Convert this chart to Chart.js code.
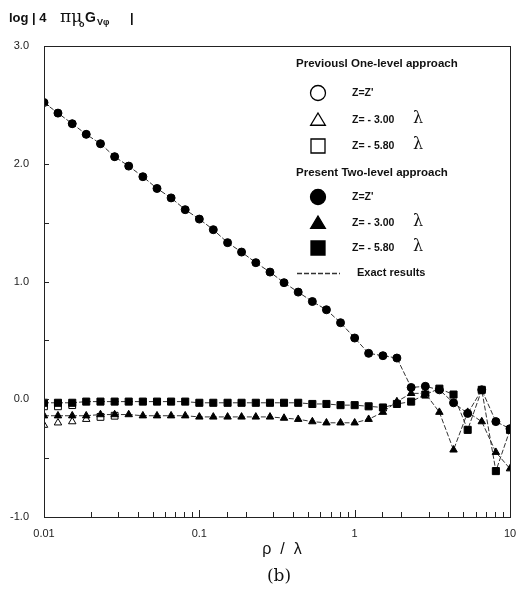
<!DOCTYPE html>
<html>
<head>
<meta charset="utf-8">
<script src="https://cdn.jsdelivr.net/npm/chart.js@4.4.0/dist/chart.umd.min.js"></script>
<style>
  html, body { margin: 0; padding: 0; background: #fff; }
  #wrap { width: 522px; height: 590px; }
</style>
</head>
<body>
<div id="wrap"><canvas id="chart" width="522" height="590"></canvas></div>
<script>
// rho / lambda sample points
var rho = [0.01, 0.0123, 0.0152, 0.0187, 0.0231, 0.0285, 0.0351, 0.0433, 0.0534, 0.0658, 0.0811,
           0.1, 0.123, 0.152, 0.187, 0.231, 0.285, 0.351, 0.433, 0.534, 0.658, 0.811,
           1.0, 1.23, 1.52, 1.87, 2.31, 2.85, 3.51, 4.33, 5.34, 6.58, 8.11, 10];

// present two-level approach
var presentZZ = [2.52, 2.43, 2.34, 2.25, 2.17, 2.06, 1.98, 1.89, 1.79, 1.71, 1.61,
                 1.53, 1.44, 1.33, 1.25, 1.16, 1.08, 0.99, 0.91, 0.83, 0.76, 0.65,
                 0.52, 0.39, 0.37, 0.35, 0.10, 0.11, 0.08, -0.03, -0.12, 0.08, -0.19, -0.25];
var present300 = [-0.14, -0.14, -0.14, -0.14, -0.13, -0.13, -0.13, -0.14, -0.14, -0.14, -0.14,
                  -0.15, -0.15, -0.15, -0.15, -0.15, -0.15, -0.16, -0.17, -0.19, -0.20, -0.20,
                  -0.20, -0.17, -0.11, -0.02, 0.05, 0.05, -0.11, -0.43, -0.11, -0.19, -0.45, -0.59];
var present580 = [-0.03, -0.03, -0.03, -0.02, -0.02, -0.02, -0.02, -0.02, -0.02, -0.02, -0.02,
                  -0.03, -0.03, -0.03, -0.03, -0.03, -0.03, -0.03, -0.03, -0.04, -0.04, -0.05,
                  -0.05, -0.06, -0.07, -0.04, -0.02, 0.04, 0.09, 0.04, -0.26, 0.08, -0.61, -0.26];

// previous one-level approach (only the first small-rho points)
var prevRhoZZ = [0.01, 0.0123, 0.0152, 0.0187, 0.0231, 0.0285];
var prevZZ = [2.52, 2.43, 2.34, 2.25, 2.17, 2.06];
var prevRho300 = [0.01, 0.0123, 0.0152, 0.0187];
var prev300 = [-0.22, -0.20, -0.19, -0.17];
var prevRho580 = [0.01, 0.0123, 0.0152, 0.0231, 0.0285];
var prev580 = [-0.06, -0.06, -0.05, -0.15, -0.14];

var xTickValues = [0.01, 0.1, 1, 10];
var xTickLabels = ['0.01', '0.1', '1', '10'];
var yTickLabels = ['-1.0', '0.0', '1.0', '2.0', '3.0'];

function pts(xs, ys) {
    return ys.map(function (y, i) { return { x: xs[i], y: y }; });
}

var sansB = "'Liberation Sans', Arial, sans-serif";
var narrow = "'Liberation Sans Narrow', 'Liberation Sans', Arial, sans-serif";

function shape(ctx, kind, x, y, s, filled) {
    ctx.beginPath();
    if (kind === 'circle') {
        ctx.arc(x, y, s, 0, Math.PI * 2);
    } else if (kind === 'tri') {
        ctx.moveTo(x, y - s);
        ctx.lineTo(x + s * 1.05, y + s * 0.75);
        ctx.lineTo(x - s * 1.05, y + s * 0.75);
        ctx.closePath();
    } else {
        ctx.rect(x - s, y - s, 2 * s, 2 * s);
    }
    ctx.fillStyle = filled ? '#000' : '#fff';
    ctx.fill();
    ctx.lineWidth = 1.3;
    ctx.strokeStyle = '#000';
    ctx.stroke();
}

var decor = {
    id: 'decor',
    afterDraw: function (chart) {
        var ctx = chart.ctx, a = chart.chartArea;
        var xs = chart.scales.x, ys = chart.scales.y;
        ctx.save();
        // frame
        ctx.strokeStyle = '#222';
        ctx.lineWidth = 1;
        ctx.strokeRect(a.left + 0.5, a.top + 0.5, a.right - a.left, a.bottom - a.top);
        // inward ticks
        ys.ticks.forEach(function (t) {
            var py = Math.round(ys.getPixelForValue(t.value)) + 0.5;
            ctx.beginPath();
            ctx.moveTo(a.left, py);
            ctx.lineTo(a.left + 5, py);
            ctx.stroke();
        });
        xs.ticks.forEach(function (t) {
            var px = Math.round(xs.getPixelForValue(t.value)) + 0.5;
            var major = xTickValues.indexOf(t.value) >= 0;
            ctx.beginPath();
            ctx.moveTo(px, a.bottom);
            ctx.lineTo(px, a.bottom - (major ? 7 : 5));
            ctx.stroke();
        });

        // y title
        ctx.fillStyle = '#111';
        ctx.textBaseline = 'alphabetic';
        ctx.textAlign = 'left';
        ctx.font = 'bold 13px ' + sansB;
        ctx.fillText('log | 4', 9, 22);
        ctx.font = '17px "DejaVu Serif", serif';
        ctx.fillText('πμ', 60, 22);
        ctx.font = 'bold 9px ' + sansB;
        ctx.fillText('o', 79, 27);
        ctx.font = 'bold 14px ' + sansB;
        ctx.fillText('G', 85, 22);
        ctx.font = 'bold 9px ' + sansB;
        ctx.fillText('Vφ', 97, 25);
        ctx.font = 'bold 13px ' + sansB;
        ctx.fillText('|', 130, 22);

        // axis title and caption
        ctx.textAlign = 'center';
        ctx.textBaseline = 'middle';
        ctx.font = '16px ' + sansB;
        ctx.fillText('ρ  /  λ', 282, 550);
        ctx.font = '17px "DejaVu Serif", serif';
        ctx.fillText('(b)', 279, 577);

        // legend
        ctx.textAlign = 'left';
        ctx.font = 'bold 11.5px ' + sansB;
        ctx.fillText('Previousl One-level approach', 296, 64);
        ctx.fillText('Present Two-level approach', 296, 173);
        var rows = [
            ['circle', false, 93, "Z=Z'", false],
            ['tri', false, 120, 'Z= - 3.00', true],
            ['rect', false, 146, 'Z= - 5.80', true],
            ['circle', true, 197, "Z=Z'", false],
            ['tri', true, 223, 'Z= - 3.00', true],
            ['rect', true, 248, 'Z= - 5.80', true]
        ];
        rows.forEach(function (r) {
            shape(ctx, r[0], 318, r[2], r[0] === 'circle' ? 7.5 : 7, r[1]);
            ctx.fillStyle = '#111';
            ctx.font = 'bold 10.5px ' + sansB;
            ctx.fillText(r[3], 352, r[2]);
            if (r[4]) {
                ctx.font = '16px "DejaVu Serif", serif';
                ctx.fillText('λ', 413, r[2] - 1);
            }
        });
        ctx.strokeStyle = '#333';
        ctx.setLineDash([5, 2]);
        ctx.beginPath();
        ctx.moveTo(297, 273.5);
        ctx.lineTo(340, 273.5);
        ctx.stroke();
        ctx.setLineDash([]);
        ctx.font = 'bold 11px ' + sansB;
        ctx.fillText('Exact results', 357, 273);
        ctx.restore();
    }
};

var lineStyle = { borderColor: '#333', borderWidth: 1, borderDash: [5, 2], showLine: true, tension: 0 };

new Chart(document.getElementById('chart'), {
    type: 'scatter',
    data: {
        datasets: [
            Object.assign({ label: "Present Z=Z'", data: pts(rho, presentZZ),
                pointStyle: 'circle', pointRadius: 4, pointBackgroundColor: '#000', pointBorderColor: '#000' }, lineStyle),
            Object.assign({ label: 'Present Z=-3.00', data: pts(rho, present300),
                pointStyle: 'triangle', pointRadius: 4.3, pointBackgroundColor: '#000', pointBorderColor: '#000' }, lineStyle),
            Object.assign({ label: 'Present Z=-5.80', data: pts(rho, present580),
                pointStyle: 'rect', pointRadius: 5, pointBackgroundColor: '#000', pointBorderColor: '#000' }, lineStyle),
            { label: "Previous Z=Z'", data: pts(prevRhoZZ, prevZZ), showLine: false,
                pointStyle: 'circle', pointRadius: 3.5, pointBackgroundColor: '#fff', pointBorderColor: '#000', pointBorderWidth: 1 },
            { label: 'Previous Z=-3.00', data: pts(prevRho300, prev300), showLine: false,
                pointStyle: 'triangle', pointRadius: 4.3, pointBackgroundColor: '#fff', pointBorderColor: '#000', pointBorderWidth: 1 },
            { label: 'Previous Z=-5.80', data: pts(prevRho580, prev580), showLine: false,
                pointStyle: 'rect', pointRadius: 4.8, pointBackgroundColor: '#fff', pointBorderColor: '#000', pointBorderWidth: 1 }
        ]
    },
    options: {
        responsive: false,
        animation: false,
        devicePixelRatio: 1,
        layout: { padding: { left: 0, right: 12, top: 46, bottom: 0 } },
        plugins: { legend: { display: false }, tooltip: { enabled: false } },
        scales: {
            x: {
                type: 'logarithmic',
                min: 0.01,
                max: 10,
                grid: { display: false, drawTicks: false },
                border: { display: false },
                afterFit: function (s) { s.height = 73; s.paddingLeft = 0; s.paddingRight = 0; },
                ticks: {
                    autoSkip: false,
                    maxRotation: 0,
                    padding: 10,
                    color: '#222',
                    font: { family: narrow, size: 11 },
                    callback: function (v) {
                        var i = xTickValues.indexOf(v);
                        return i >= 0 ? xTickLabels[i] : '';
                    }
                }
            },
            y: {
                min: -1,
                max: 3,
                grid: { display: false, drawTicks: false },
                border: { display: false },
                afterFit: function (s) { s.width = 44; s.paddingTop = 0; s.paddingBottom = 0; },
                ticks: {
                    stepSize: 0.5,
                    padding: 15,
                    color: '#222',
                    font: { family: narrow, size: 11 },
                    callback: function (v) {
                        return Number.isInteger(v) ? yTickLabels[v + 1] : '';
                    }
                }
            }
        }
    },
    plugins: [decor]
});
</script>
</body>
</html>
